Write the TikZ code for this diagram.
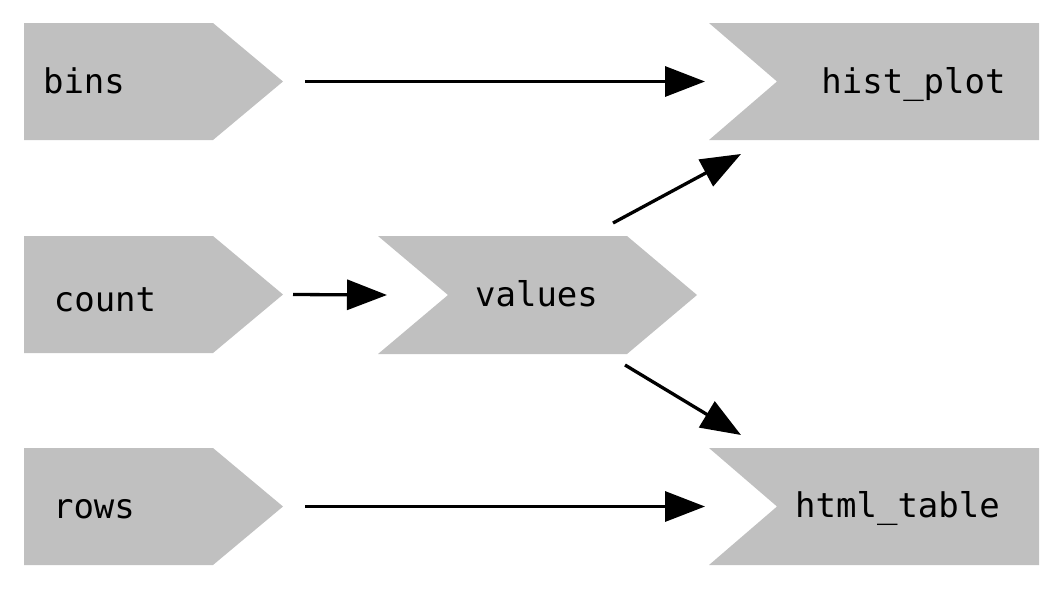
\documentclass[tikz,border=0pt]{standalone}
\usepackage{fontspec}
\newfontfamily\lblfont{DejaVu Sans Mono}
\usetikzlibrary{arrows.meta,calc}
\definecolor{boxgray}{RGB}{192,192,192}
\tikzset{
  frame/.style={inner sep=0pt, outer sep=0pt, anchor=north west},
  lbl/.style={inner sep=0pt, outer sep=0pt, anchor=base, font=\lblfont\fontsize{34}{40}\selectfont},
  arr/.style={line width=3.3pt, -{Triangle[length=40pt,width=30pt]}},
  shade/.style={fill=boxgray, draw=none}
}
\begin{document}
\begin{tikzpicture}[x=1pt,y=-1pt]
\useasboundingbox (0,0) rectangle (1062,590);
% frames
\node[frame, minimum width=259pt, minimum height=117pt] (bins) at (24,23) {};
\node[frame, minimum width=259pt, minimum height=117pt] (count) at (24,236) {};
\node[frame, minimum width=259pt, minimum height=117pt] (rows) at (24,448) {};
\node[frame, minimum width=319pt, minimum height=118pt] (values) at (378,236) {};
\node[frame, minimum width=330pt, minimum height=117pt] (hist) at (709,23) {};
\node[frame, minimum width=330pt, minimum height=117pt] (html) at (709,448) {};
% shapes
\foreach \n in {bins,count,rows}{
  \fill[shade] (\n.north west) -- ([xshift=-70pt]\n.north east) -- (\n.east)
    -- ([xshift=-70pt]\n.south east) -- (\n.south west) -- cycle;
}
\fill[shade] (values.north west) -- ([xshift=-70pt]values.north east) -- (values.east)
  -- ([xshift=-70pt]values.south east) -- (values.south west) -- ([xshift=70pt]values.west) -- cycle;
\foreach \n in {hist,html}{
  \fill[shade] (\n.north west) -- (\n.north east) -- (\n.south east) -- (\n.south west)
    -- ([xshift=68pt]\n.west) -- cycle;
}
% labels
\node[lbl] (binsT) at (84,93) {bins};
\node[lbl] (countT) at (105,311) {count};
\node[lbl] (rowsT) at (94,518) {rows};
\node[lbl] (valuesT) at (536.5,306) {values};
\node[lbl] (histT) at (913.5,93) {hist\_plot};
\node[lbl] (htmlT) at (897.5,517) {html\_table};
% connectors
\draw[arr, shorten <=22pt, shorten >=4pt] (bins.east) -- (hist.west);
\draw[arr, shorten <=22pt, shorten >=4pt] (rows.east) -- (html.west);
\draw[arr] ([xshift=10pt]count.east) -- ([xshift=9pt]values.west);
\draw[arr] ($(values.north east)+(-84,-13)$) -- ($(hist.south west)+(32,14)$);
\draw[arr] ($(values.south east)+(-72,11)$) -- ($(html.north west)+(32,-13)$);
\end{tikzpicture}
\end{document}
